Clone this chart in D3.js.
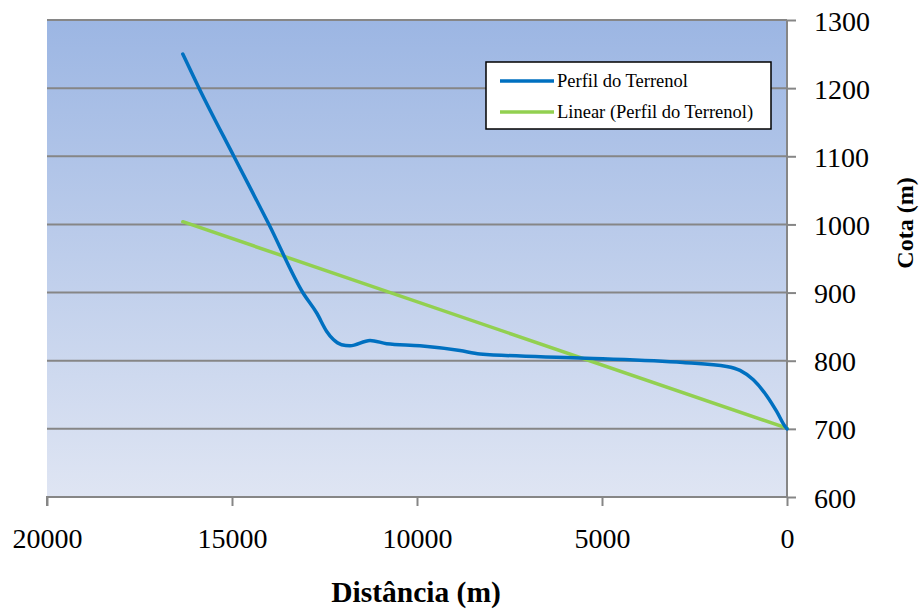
<!DOCTYPE html>
<html>
<head>
<meta charset="utf-8">
<script src="https://cdn.jsdelivr.net/npm/d3@7"></script>
<style>
  body { margin: 0; background: #fff; }
  text { font-family: "Liberation Serif", "Times New Roman", serif; }
</style>
</head>
<body>
<div id="chart"></div>
<script>
// Data.
const distancia = [16330, 15890, 14950, 14000, 13075, 12710, 12440, 12260, 12040, 11810, 11270, 10820, 9920, 8840, 8300, 5600, 2810, 1630, 1270, 910, 550, 280, 54, 0];
const cota      = [1250, 1200, 1100, 1000, 899, 870, 843, 831, 823.5, 822, 829.8, 825, 822, 815, 810, 804, 797.5, 791.6, 785.8, 772, 748.7, 725.6, 703.6, 700];
const trendDist = [16330, 0];
const trendCota = [1004, 701];
const xTicks = [20000, 15000, 10000, 5000, 0];
const yTicks = [600, 700, 800, 900, 1000, 1100, 1200, 1300];
const seriesNames = ['Perfil do Terrenol', 'Linear (Perfil do Terrenol)'];
const seriesColors = ['#0070C0', '#92D050'];

const width = 923;
const height = 610;
const margin = { top: 20, right: 136, bottom: 113, left: 47 };
const plotW = width - margin.left - margin.right;
const plotH = height - margin.top - margin.bottom;

const svg = d3.select('#chart')
              .append('svg')
              .attr('width', width)
              .attr('height', height);

// Background gradient.
const grad = svg.append('defs')
                .append('linearGradient')
                .attr('id', 'bg')
                .attr('x1', 0).attr('y1', 0)
                .attr('x2', 0).attr('y2', 1);
grad.append('stop').attr('offset', '0%').attr('stop-color', '#9cb6e3');
grad.append('stop').attr('offset', '100%').attr('stop-color', '#dfe5f3');

const g = svg.append('g')
             .attr('transform', 'translate(' + margin.left + ',' + margin.top + ')');

g.append('rect')
 .attr('width', plotW)
 .attr('height', plotH)
 .attr('fill', 'url(#bg)');

// Scales (x reversed).
const x = d3.scaleLinear().domain([20000, 0]).range([0, plotW]);
const y = d3.scaleLinear().domain([600, 1300]).range([plotH, 0]);

// Gridlines.
g.selectAll('.grid')
 .data(yTicks.filter((d) => d > 600))
 .enter()
 .append('line')
 .attr('x1', 0)
 .attr('x2', plotW)
 .attr('y1', (d) => y(d))
 .attr('y2', (d) => y(d))
 .attr('stroke', '#868686')
 .attr('stroke-width', 2);

// Axes.
const xAxis = g.append('g')
               .attr('transform', 'translate(0,' + plotH + ')')
               .call(d3.axisBottom(x).tickValues(xTicks).tickSize(9).tickPadding(22).tickFormat(d3.format('d')));

const yAxis = g.append('g')
               .attr('transform', 'translate(' + plotW + ',0)')
               .call(d3.axisRight(y).tickValues(yTicks).tickSize(9).tickPadding(18).tickFormat(d3.format('d')));

[xAxis, yAxis].forEach((ax) => {
    ax.select('.domain').attr('stroke', '#868686').attr('stroke-width', 2);
    ax.selectAll('.tick line').attr('stroke', '#868686').attr('stroke-width', 2);
    ax.selectAll('.tick text')
      .attr('fill', '#000')
      .style('font-family', '"Liberation Serif", serif')
      .style('font-size', '28px');
});
xAxis.select('.domain').attr('d', 'M0,9V0H' + plotW);
yAxis.select('.domain').attr('d', 'M0,0V' + plotH);
yAxis.selectAll('.tick text').attr('dy', '0.36em');

// Lines.
const profile = distancia.map((d, i) => ({ d: d, c: cota[i] }));
const trend = trendDist.map((d, i) => ({ d: d, c: trendCota[i] }));

const line = d3.line()
               .x((p) => x(p.d))
               .y((p) => y(p.c));

g.append('path')
 .datum(trend)
 .attr('d', line)
 .attr('fill', 'none')
 .attr('stroke', seriesColors[1])
 .attr('stroke-width', 3.5)
 .attr('stroke-linecap', 'round');

g.append('path')
 .datum(profile)
 .attr('d', line.curve(d3.curveMonotoneX))
 .attr('fill', 'none')
 .attr('stroke', seriesColors[0])
 .attr('stroke-width', 3.5)
 .attr('stroke-linecap', 'round');

// Axis titles.
svg.append('text')
   .attr('x', 416)
   .attr('y', 602)
   .attr('text-anchor', 'middle')
   .style('font-size', '29.5px')
   .style('font-weight', 'bold')
   .text('Distância (m)');

svg.append('text')
   .attr('transform', 'translate(913,223) rotate(-90)')
   .attr('text-anchor', 'middle')
   .style('font-size', '24px')
   .style('font-weight', 'bold')
   .text('Cota (m)');

// Legend.
const legend = svg.append('g').attr('transform', 'translate(486,62)');
legend.append('rect')
      .attr('width', 285)
      .attr('height', 67)
      .attr('fill', '#fff')
      .attr('stroke', '#000')
      .attr('stroke-width', 1.5);

const items = legend.selectAll('.item')
                    .data(seriesNames)
                    .enter()
                    .append('g')
                    .attr('transform', (d, i) => 'translate(0,' + (19 + i * 31) + ')');
items.append('line')
     .attr('x1', 14).attr('x2', 68)
     .attr('y1', 0).attr('y2', 0)
     .attr('stroke', (d, i) => seriesColors[i])
     .attr('stroke-width', 3.5);
items.append('text')
     .attr('x', 71)
     .attr('y', 6)
     .style('font-size', '18.5px')
     .text((d) => d);
</script>
</body>
</html>
